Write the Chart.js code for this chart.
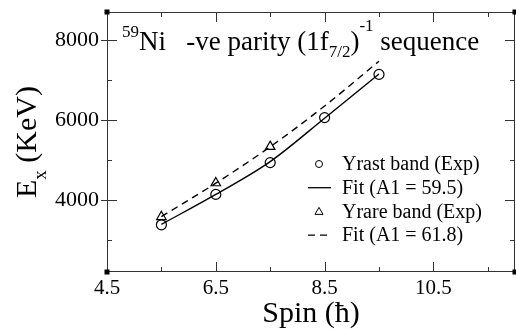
<!DOCTYPE html>
<html>
<head>
<meta charset="utf-8">
<script src="https://cdn.jsdelivr.net/npm/chart.js@4/dist/chart.umd.min.js"></script>
<style>
  html, body { margin: 0; padding: 0; background: #fff; }
  #wrap { width: 516px; height: 329px; }
</style>
</head>
<body>
<div id="wrap"><canvas id="chart"></canvas></div>
<script>
// values
const spins = [5.5, 6.5, 7.5, 8.5, 9.5];
const yrastExp = [3380, 4140, 4935, 6060, 7140];
const yrastFit = [3390, 4140, 4960, 6045, 7150];
const yrareSpins = [5.5, 6.5, 7.5];
const yrareExp = [3580, 4425, 5335];
const yrareFit = [3585, 4420, 5330, 6350, 7470];

const xTicks = [4.5, 6.5, 8.5, 10.5];
const xMinor = [5.5, 7.5, 9.5, 11.5];
const yTicks = [4000, 6000, 8000];
const yMinor = [3000, 5000, 7000];

// title pieces: text, font size, baseline shift
const titleParts = [
  ["59", 17, -13],
  ["Ni", 27, 0],
  ["   -ve parity (1f", 27, 0],
  ["7/2", 17, 7],
  [")", 27, 0],
  ["-1", 17, -19],
  [" sequence", 27, 0]
];

const FONT = '"Liberation Serif", "Times New Roman", serif';

const toXY = (xs, ys) => ys.map((v, i) => ({ x: xs[i], y: v }));

const decorations = {
  id: "decorations",
  afterDraw(chart) {
    const { ctx, chartArea: a, scales: { x, y } } = chart;
    ctx.save();

    // frame
    ctx.strokeStyle = "#333";
    ctx.lineWidth = 1;
    ctx.strokeRect(a.left + 0.5, a.top + 0.5, a.right - a.left - 1, a.bottom - a.top - 1);

    ctx.beginPath();
    xTicks.forEach(v => {
      const px = Math.round(x.getPixelForValue(v)) + 0.5;
      ctx.moveTo(px, a.bottom); ctx.lineTo(px, a.bottom - 10);
      ctx.moveTo(px, a.top); ctx.lineTo(px, a.top + 10);
    });
    xMinor.forEach(v => {
      const px = Math.round(x.getPixelForValue(v)) + 0.5;
      ctx.moveTo(px, a.bottom); ctx.lineTo(px, a.bottom - 5);
      ctx.moveTo(px, a.top); ctx.lineTo(px, a.top + 5);
    });
    yTicks.forEach(v => {
      const py = Math.round(y.getPixelForValue(v)) + 0.5;
      ctx.moveTo(a.left - 6, py); ctx.lineTo(a.left + 10, py);
      ctx.moveTo(a.right, py); ctx.lineTo(a.right - 10, py);
    });
    yMinor.forEach(v => {
      const py = Math.round(y.getPixelForValue(v)) + 0.5;
      ctx.moveTo(a.left, py); ctx.lineTo(a.left + 5, py);
      ctx.moveTo(a.right, py); ctx.lineTo(a.right - 5, py);
    });
    ctx.stroke();

    // corner squares
    ctx.fillStyle = "#000";
    [[a.left, a.top], [a.left, a.bottom], [a.right, a.top], [a.right, a.bottom]].forEach(([cx, cy]) => {
      ctx.fillRect(cx - 2.5, cy - 2.5, 5, 5);
    });

    // y axis title with subscript
    ctx.fillStyle = "#000";
    ctx.textBaseline = "alphabetic";
    ctx.textAlign = "left";
    ctx.translate(36, (a.top + a.bottom) / 2);
    ctx.rotate(-Math.PI / 2);
    ctx.font = "30px " + FONT;
    const wE = ctx.measureText("E").width;
    const wK = ctx.measureText(" (KeV)").width;
    ctx.font = "19px " + FONT;
    const wx = ctx.measureText("x").width;
    let p = -(wE + wx + wK) / 2;
    ctx.font = "30px " + FONT;
    ctx.fillText("E", p, 0); p += wE;
    ctx.font = "19px " + FONT;
    ctx.fillText("x", p, 10); p += wx;
    ctx.font = "30px " + FONT;
    ctx.fillText(" (KeV)", p, 0);
    ctx.setTransform(1, 0, 0, 1, 0, 0);

    // title inside the plot
    let tx = 122;
    titleParts.forEach(([t, size, dy]) => {
      ctx.font = size + "px " + FONT;
      ctx.fillText(t, tx, 50 + dy);
      tx += ctx.measureText(t).width;
    });

    // legend
    chart.data.datasets.forEach((ds, i) => {
      const ly = 164 + i * 23.7;
      ctx.strokeStyle = "#000";
      ctx.lineWidth = 1.3;
      if (ds.showLine === false) {
        ctx.lineWidth = 1;
        ctx.beginPath();
        if (ds.pointStyle === "triangle") {
          ctx.moveTo(319, ly - 4); ctx.lineTo(323, ly + 3); ctx.lineTo(315, ly + 3); ctx.closePath();
        } else {
          ctx.arc(319, ly, 3.5, 0, Math.PI * 2);
        }
        ctx.stroke();
      } else {
        ctx.setLineDash(ds.borderDash || []);
        ctx.beginPath();
        ctx.moveTo(308, ly); ctx.lineTo(331, ly);
        ctx.stroke();
        ctx.setLineDash([]);
      }
      ctx.font = "20px " + FONT;
      ctx.textBaseline = "middle";
      ctx.fillText(ds.label, 342, ly + 1);
      ctx.textBaseline = "alphabetic";
    });

    ctx.restore();
  }
};

new Chart(document.getElementById("chart"), {
  type: "line",
  data: {
    datasets: [
      {
        label: "Yrast band (Exp)",
        data: toXY(spins, yrastExp),
        showLine: false,
        pointStyle: "circle",
        pointRadius: 5,
        pointBorderWidth: 1.2,
        borderColor: "#000",
        pointBorderColor: "#000",
        pointBackgroundColor: "rgba(0,0,0,0)"
      },
      {
        label: "Fit (A1 = 59.5)",
        data: toXY(spins, yrastFit),
        borderColor: "#000",
        borderWidth: 1.4,
        pointRadius: 0,
        cubicInterpolationMode: "monotone"
      },
      {
        label: "Yrare band (Exp)",
        data: toXY(yrareSpins, yrareExp),
        showLine: false,
        pointStyle: "triangle",
        pointRadius: 5.5,
        pointBorderWidth: 1.2,
        borderColor: "#000",
        pointBorderColor: "#000",
        pointBackgroundColor: "rgba(0,0,0,0)"
      },
      {
        label: "Fit (A1 = 61.8)",
        data: toXY(spins, yrareFit),
        borderColor: "#000",
        borderWidth: 1.4,
        borderDash: [7, 5],
        pointRadius: 0,
        cubicInterpolationMode: "monotone"
      }
    ]
  },
  options: {
    responsive: true,
    maintainAspectRatio: false,
    animation: false,
    layout: { autoPadding: false, padding: { top: 12, right: 1, left: 0, bottom: 0 } },
    plugins: {
      legend: { display: false },
      tooltip: { enabled: false }
    },
    scales: {
      x: {
        type: "linear",
        min: 4.5,
        max: 12,
        afterBuildTicks: s => { s.ticks = xTicks.map(v => ({ value: v })); },
        afterFit: s => { s.height = 57; s.paddingLeft = 0; s.paddingRight = 0; },
        grid: { display: false, drawTicks: false },
        border: { display: false },
        ticks: {
          color: "#000",
          padding: 4,
          maxRotation: 0,
          font: { family: FONT, size: 21 },
          callback: v => v.toFixed(1)
        },
        title: {
          display: true,
          text: "Spin (ħ)",
          color: "#000",
          font: { family: FONT, size: 30, lineHeight: 1 },
          padding: { top: 0, bottom: 0 }
        }
      },
      y: {
        type: "linear",
        min: 2200,
        max: 8700,
        afterBuildTicks: s => { s.ticks = yTicks.map(v => ({ value: v })); },
        afterFit: s => { s.width = 107; s.paddingTop = 0; s.paddingBottom = 0; },
        grid: { display: false, drawTicks: false },
        border: { display: false },
        ticks: {
          color: "#000",
          padding: 8,
          font: { family: FONT, size: 22 },
          callback: v => String(v)
        }
      }
    }
  },
  plugins: [decorations]
});
</script>
</body>
</html>
